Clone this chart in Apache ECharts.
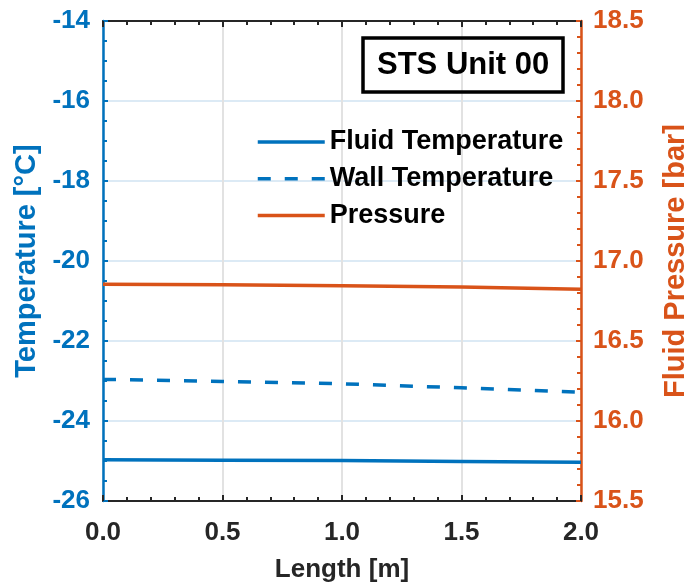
<!DOCTYPE html>
<html>
<head>
<meta charset="utf-8">
<script src="https://cdn.jsdelivr.net/npm/echarts@6/dist/echarts.min.js"></script>
<style>
  html, body { margin: 0; padding: 0; background: #fff; }
  #chart { width: 684px; height: 583px; }
</style>
</head>
<body>
<div id="chart"></div>
<script>
// Positions along the unit (m)
const lengthM = [0, 0.5, 1.0, 1.5, 2.0];
// Fluid temperature (°C)
const fluidTemp = [-24.97, -24.98, -24.99, -25.01, -25.03];
// Wall temperature (°C)
const wallTemp = [-22.96, -23.01, -23.07, -23.17, -23.28];
// Fluid pressure (bar)
const pressure = [16.854, 16.851, 16.846, 16.837, 16.823];

const BLUE = '#0072BD';
const ORANGE = '#D95319';
const DARK = '#262626';
const FONT = '"Liberation Sans", Arial, sans-serif';

const pairs = (xs, ys) => xs.map((x, i) => [x, ys[i]]);

const chart = echarts.init(document.getElementById('chart'), null, { renderer: 'canvas' });

chart.setOption({
  backgroundColor: '#ffffff',
  animation: false,
  textStyle: { fontFamily: FONT },
  title: {
    text: 'STS Unit 00',
    left: 363,
    top: 38,
    padding: [11, 14],
    borderColor: '#000',
    borderWidth: 3.5,
    textStyle: { fontFamily: FONT, fontSize: 31, fontWeight: 'bold', color: '#000', lineHeight: 32 }
  },
  legend: {
    orient: 'vertical',
    left: 251,
    top: 122,
    itemWidth: 67,
    itemHeight: 14,
    itemGap: 6.7,
    itemStyle: { opacity: 0 },
    lineStyle: { width: 3.5 },
    textStyle: { fontFamily: FONT, fontSize: 27, fontWeight: 'bold', color: '#000', lineHeight: 30 },
    data: ['Fluid Temperature', 'Wall Temperature', 'Pressure']
  },
  grid: { left: 103, right: 103, top: 21, bottom: 82, outerBoundsMode: 'none' },
  xAxis: [
    {
      type: 'value', position: 'bottom', min: 0, max: 2, interval: 0.5,
      name: 'Length [m]', nameLocation: 'middle', nameGap: 56, nameMoveOverlap: false,
      nameTextStyle: { fontFamily: FONT, fontSize: 26, fontWeight: 'bold', color: DARK },
      axisLine: { show: true, onZero: false, lineStyle: { color: DARK, width: 2 } },
      axisTick: { show: true, inside: true, length: 6, lineStyle: { color: DARK, width: 2 } },
      minorTick: { show: true, splitNumber: 5, length: 4, lineStyle: { color: DARK, width: 2 } },
      axisLabel: { color: DARK, fontSize: 26, fontWeight: 'bold', fontFamily: FONT, margin: 19,
        formatter: v => v.toFixed(1) },
      splitLine: { show: true, lineStyle: { color: '#E2E2E2', width: 2 } }
    },
    {
      type: 'value', position: 'top', min: 0, max: 2, interval: 0.5,
      axisLine: { show: true, onZero: false, lineStyle: { color: DARK, width: 2 } },
      axisTick: { show: true, inside: true, length: 6, lineStyle: { color: DARK, width: 2 } },
      minorTick: { show: true, splitNumber: 5, length: 4, lineStyle: { color: DARK, width: 2 } },
      axisLabel: { show: false },
      splitLine: { show: false }
    }
  ],
  yAxis: [
    {
      type: 'value', position: 'left', min: -26, max: -14, interval: 2,
      name: 'Temperature [°C]', nameLocation: 'middle', nameGap: 62, nameMoveOverlap: false,
      nameTextStyle: { fontFamily: FONT, fontSize: 29, fontWeight: 'bold', color: BLUE },
      axisLine: { show: true, onZero: false, lineStyle: { color: BLUE, width: 2.5 } },
      axisTick: { show: true, inside: true, length: 5, lineStyle: { color: BLUE, width: 2 } },
      minorTick: { show: true, splitNumber: 4, length: 4, lineStyle: { color: BLUE, width: 2 } },
      axisLabel: { color: BLUE, fontSize: 26, fontWeight: 'bold', fontFamily: FONT, margin: 13 },
      splitLine: { show: true, lineStyle: { color: '#DCEAF5', width: 2 } }
    },
    {
      type: 'value', position: 'right', min: 15.5, max: 18.5, interval: 0.5,
      name: 'Fluid Pressure [bar]', nameLocation: 'middle', nameGap: 80, nameMoveOverlap: false,
      nameTextStyle: { fontFamily: FONT, fontSize: 29, fontWeight: 'bold', color: ORANGE },
      axisLine: { show: true, onZero: false, lineStyle: { color: ORANGE, width: 2.5 } },
      axisTick: { show: true, inside: true, length: 5, lineStyle: { color: ORANGE, width: 2 } },
      minorTick: { show: true, splitNumber: 5, length: 4, lineStyle: { color: ORANGE, width: 2 } },
      axisLabel: { color: ORANGE, fontSize: 26, fontWeight: 'bold', fontFamily: FONT, margin: 12,
        formatter: v => v.toFixed(1) },
      splitLine: { show: false }
    }
  ],
  series: [
    {
      name: 'Fluid Temperature', type: 'line', xAxisIndex: 0, yAxisIndex: 0,
      data: pairs(lengthM, fluidTemp), symbol: 'none', smooth: false,
      lineStyle: { color: BLUE, width: 3.5 }, itemStyle: { color: BLUE }
    },
    {
      name: 'Wall Temperature', type: 'line', xAxisIndex: 0, yAxisIndex: 0,
      data: pairs(lengthM, wallTemp), symbol: 'none', smooth: false,
      lineStyle: { color: BLUE, width: 3.5, type: [13, 14] }, itemStyle: { color: BLUE }
    },
    {
      name: 'Pressure', type: 'line', xAxisIndex: 0, yAxisIndex: 1,
      data: pairs(lengthM, pressure), symbol: 'none', smooth: false,
      lineStyle: { color: ORANGE, width: 3.5 }, itemStyle: { color: ORANGE }
    }
  ]
});
</script>
</body>
</html>
